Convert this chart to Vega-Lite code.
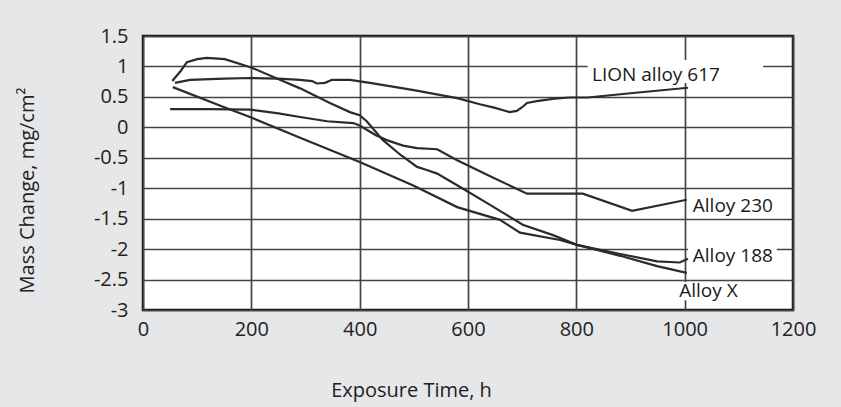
{
  "$schema": "https://vega.github.io/schema/vega-lite/v6.json",
  "width": 650,
  "height": 274,
  "autosize": {"type": "none"},
  "padding": {"left": 143, "top": 36, "right": 48, "bottom": 97},
  "background": "#e6e7e9",
  "config": {
    "view": {"fill": "white", "stroke": "#111111", "strokeWidth": 2.5},
    "font": "Open Sans",
    "axis": {
      "grid": true,
      "gridColor": "#444444",
      "gridWidth": 1.7,
      "gridOpacity": 1,
      "domain": false,
      "ticks": false,
      "tickSize": 0,
      "labelFlush": false,
      "labelFontSize": 20,
      "labelColor": "#222222",
      "labelFont": "Open Sans",
      "titleFont": "Open Sans",
      "titleFontSize": 20,
      "titleFontWeight": "normal",
      "titleColor": "#222222"
    }
  },
  "datasets": {
    "curves": [
      {"alloy": "LION alloy 617", "hours": 59, "mass": 0.73},
      {"alloy": "LION alloy 617", "hours": 87, "mass": 0.78},
      {"alloy": "LION alloy 617", "hours": 150, "mass": 0.8},
      {"alloy": "LION alloy 617", "hours": 198, "mass": 0.81},
      {"alloy": "LION alloy 617", "hours": 250, "mass": 0.8},
      {"alloy": "LION alloy 617", "hours": 290, "mass": 0.78},
      {"alloy": "LION alloy 617", "hours": 312, "mass": 0.76},
      {"alloy": "LION alloy 617", "hours": 321, "mass": 0.72},
      {"alloy": "LION alloy 617", "hours": 336, "mass": 0.73},
      {"alloy": "LION alloy 617", "hours": 349, "mass": 0.78},
      {"alloy": "LION alloy 617", "hours": 382, "mass": 0.78},
      {"alloy": "LION alloy 617", "hours": 419, "mass": 0.73},
      {"alloy": "LION alloy 617", "hours": 500, "mass": 0.61},
      {"alloy": "LION alloy 617", "hours": 580, "mass": 0.48},
      {"alloy": "LION alloy 617", "hours": 622, "mass": 0.38},
      {"alloy": "LION alloy 617", "hours": 650, "mass": 0.32},
      {"alloy": "LION alloy 617", "hours": 665, "mass": 0.28},
      {"alloy": "LION alloy 617", "hours": 677, "mass": 0.25},
      {"alloy": "LION alloy 617", "hours": 690, "mass": 0.27},
      {"alloy": "LION alloy 617", "hours": 700, "mass": 0.33},
      {"alloy": "LION alloy 617", "hours": 709, "mass": 0.4},
      {"alloy": "LION alloy 617", "hours": 727, "mass": 0.43},
      {"alloy": "LION alloy 617", "hours": 760, "mass": 0.47},
      {"alloy": "LION alloy 617", "hours": 788, "mass": 0.49},
      {"alloy": "LION alloy 617", "hours": 821, "mass": 0.49},
      {"alloy": "LION alloy 617", "hours": 900, "mass": 0.56},
      {"alloy": "LION alloy 617", "hours": 1006, "mass": 0.65},

      {"alloy": "Alloy 230", "hours": 50, "mass": 0.3},
      {"alloy": "Alloy 230", "hours": 120, "mass": 0.3},
      {"alloy": "Alloy 230", "hours": 198, "mass": 0.29},
      {"alloy": "Alloy 230", "hours": 250, "mass": 0.23},
      {"alloy": "Alloy 230", "hours": 290, "mass": 0.17},
      {"alloy": "Alloy 230", "hours": 340, "mass": 0.1},
      {"alloy": "Alloy 230", "hours": 388, "mass": 0.07},
      {"alloy": "Alloy 230", "hours": 400, "mass": 0.03},
      {"alloy": "Alloy 230", "hours": 413, "mass": -0.04},
      {"alloy": "Alloy 230", "hours": 430, "mass": -0.13},
      {"alloy": "Alloy 230", "hours": 450, "mass": -0.21},
      {"alloy": "Alloy 230", "hours": 480, "mass": -0.3},
      {"alloy": "Alloy 230", "hours": 506, "mass": -0.34},
      {"alloy": "Alloy 230", "hours": 543, "mass": -0.36},
      {"alloy": "Alloy 230", "hours": 580, "mass": -0.54},
      {"alloy": "Alloy 230", "hours": 640, "mass": -0.8},
      {"alloy": "Alloy 230", "hours": 709, "mass": -1.09},
      {"alloy": "Alloy 230", "hours": 812, "mass": -1.09},
      {"alloy": "Alloy 230", "hours": 903, "mass": -1.37},
      {"alloy": "Alloy 230", "hours": 1004, "mass": -1.19},

      {"alloy": "Alloy X", "hours": 54, "mass": 0.76},
      {"alloy": "Alloy X", "hours": 70, "mass": 0.93},
      {"alloy": "Alloy X", "hours": 81, "mass": 1.07},
      {"alloy": "Alloy X", "hours": 100, "mass": 1.12},
      {"alloy": "Alloy X", "hours": 118, "mass": 1.14},
      {"alloy": "Alloy X", "hours": 151, "mass": 1.12},
      {"alloy": "Alloy X", "hours": 201, "mass": 0.98},
      {"alloy": "Alloy X", "hours": 258, "mass": 0.76},
      {"alloy": "Alloy X", "hours": 290, "mass": 0.64},
      {"alloy": "Alloy X", "hours": 345, "mass": 0.4},
      {"alloy": "Alloy X", "hours": 382, "mass": 0.25},
      {"alloy": "Alloy X", "hours": 400, "mass": 0.2},
      {"alloy": "Alloy X", "hours": 413, "mass": 0.1},
      {"alloy": "Alloy X", "hours": 443, "mass": -0.21},
      {"alloy": "Alloy X", "hours": 475, "mass": -0.45},
      {"alloy": "Alloy X", "hours": 506, "mass": -0.65},
      {"alloy": "Alloy X", "hours": 524, "mass": -0.7},
      {"alloy": "Alloy X", "hours": 543, "mass": -0.76},
      {"alloy": "Alloy X", "hours": 580, "mass": -0.95},
      {"alloy": "Alloy X", "hours": 640, "mass": -1.27},
      {"alloy": "Alloy X", "hours": 701, "mass": -1.6},
      {"alloy": "Alloy X", "hours": 757, "mass": -1.77},
      {"alloy": "Alloy X", "hours": 801, "mass": -1.93},
      {"alloy": "Alloy X", "hours": 881, "mass": -2.11},
      {"alloy": "Alloy X", "hours": 949, "mass": -2.28},
      {"alloy": "Alloy X", "hours": 1004, "mass": -2.39},

      {"alloy": "Alloy 188", "hours": 55, "mass": 0.66},
      {"alloy": "Alloy 188", "hours": 150, "mass": 0.33},
      {"alloy": "Alloy 188", "hours": 200, "mass": 0.16},
      {"alloy": "Alloy 188", "hours": 290, "mass": -0.17},
      {"alloy": "Alloy 188", "hours": 400, "mass": -0.57},
      {"alloy": "Alloy 188", "hours": 500, "mass": -0.96},
      {"alloy": "Alloy 188", "hours": 580, "mass": -1.31},
      {"alloy": "Alloy 188", "hours": 659, "mass": -1.52},
      {"alloy": "Alloy 188", "hours": 696, "mass": -1.73},
      {"alloy": "Alloy 188", "hours": 770, "mass": -1.85},
      {"alloy": "Alloy 188", "hours": 801, "mass": -1.93},
      {"alloy": "Alloy 188", "hours": 881, "mass": -2.08},
      {"alloy": "Alloy 188", "hours": 949, "mass": -2.2},
      {"alloy": "Alloy 188", "hours": 991, "mass": -2.22},
      {"alloy": "Alloy 188", "hours": 1006, "mass": -2.16}
    ],
    "labels": [
      {"label": "LION alloy 617", "x1": 821, "x2": 1145, "y1": 1.106, "y2": 0.728, "tx": 829, "ty": 0.761},
      {"label": "Alloy 230", "x1": 1006, "x2": 1170, "y1": -1.111, "y2": -1.489, "tx": 1015, "ty": -1.39},
      {"label": "Alloy 188", "x1": 1006, "x2": 1170, "y1": -1.965, "y2": -2.31, "tx": 1015, "ty": -2.21},
      {"label": "Alloy X", "x1": 986, "x2": 1145, "y1": -2.54, "y2": -2.84, "tx": 990, "ty": -2.79}
    ]
  },
  "layer": [
    {
      "data": {"name": "labels"},
      "mark": {"type": "rect", "fill": "white"},
      "encoding": {
        "x": {"field": "x1", "type": "quantitative", "scale": {"domain": [0, 1200], "nice": false},
          "axis": {"values": [0, 200, 400, 600, 800, 1000, 1200], "labelExpr": "'' + datum.value", "labelPadding": 9, "title": "Exposure Time, h", "titleX": 268, "titleY": 80, "titleBaseline": "middle"}},
        "x2": {"field": "x2"},
        "y": {"field": "y1", "type": "quantitative", "scale": {"domain": [-3, 1.5], "nice": false},
          "axis": {"values": [-3, -2.5, -2, -1.5, -1, -0.5, 0, 0.5, 1, 1.5], "labelExpr": "'' + datum.value", "labelPadding": 15, "title": "Mass Change, mg/cm²", "titleX": -116, "titleY": 154, "titleAngle": -90, "titleBaseline": "middle", "titleAlign": "center"}},
        "y2": {"field": "y2"}
      }
    },
    {
      "data": {"name": "curves"},
      "mark": {"type": "line", "color": "#2b2b2b", "strokeWidth": 2.2},
      "encoding": {
        "x": {"field": "hours", "type": "quantitative", "scale": {"domain": [0, 1200], "nice": false},
          "axis": {"values": [0, 200, 400, 600, 800, 1000, 1200], "labelExpr": "'' + datum.value", "labelPadding": 9, "title": "Exposure Time, h", "titleX": 268, "titleY": 80, "titleBaseline": "middle"}},
        "y": {"field": "mass", "type": "quantitative", "scale": {"domain": [-3, 1.5], "nice": false},
          "axis": {"values": [-3, -2.5, -2, -1.5, -1, -0.5, 0, 0.5, 1, 1.5], "labelExpr": "'' + datum.value", "labelPadding": 15, "title": "Mass Change, mg/cm²", "titleX": -116, "titleY": 154, "titleAngle": -90, "titleBaseline": "middle", "titleAlign": "center"}},
        "detail": {"field": "alloy", "type": "nominal"}
      }
    },
    {
      "data": {"name": "labels"},
      "mark": {"type": "text", "align": "left", "baseline": "alphabetic", "fontSize": 19, "font": "Open Sans", "color": "#1a1a1a"},
      "encoding": {
        "x": {"field": "tx", "type": "quantitative",
          "axis": {"values": [0, 200, 400, 600, 800, 1000, 1200], "labelExpr": "'' + datum.value", "labelPadding": 9, "title": "Exposure Time, h", "titleX": 268, "titleY": 80, "titleBaseline": "middle"}},
        "y": {"field": "ty", "type": "quantitative",
          "axis": {"values": [-3, -2.5, -2, -1.5, -1, -0.5, 0, 0.5, 1, 1.5], "labelExpr": "'' + datum.value", "labelPadding": 15, "title": "Mass Change, mg/cm²", "titleX": -116, "titleY": 154, "titleAngle": -90, "titleBaseline": "middle", "titleAlign": "center"}},
        "text": {"field": "label", "type": "nominal"}
      }
    }
  ]
}
